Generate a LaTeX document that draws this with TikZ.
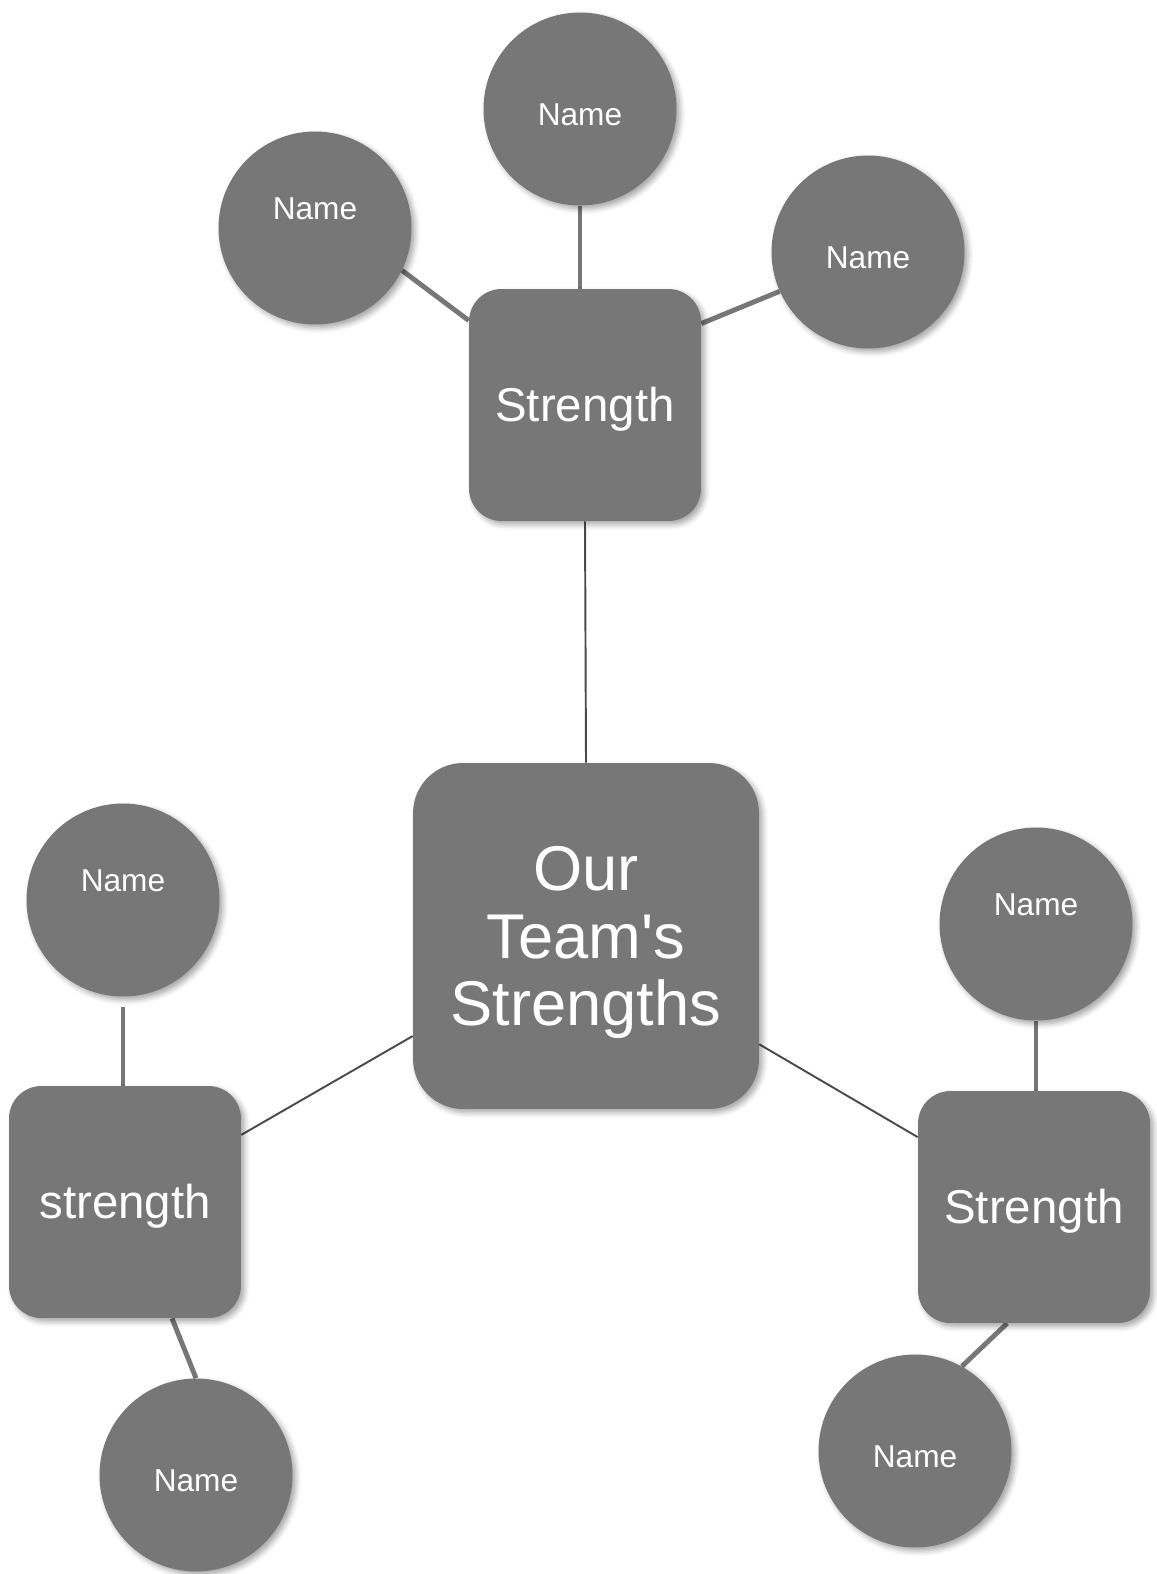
\documentclass[tikz,border=0pt]{standalone}
\usepackage{fontspec}
\setmainfont{Liberation Sans}
\usepackage{tikz}
\usetikzlibrary{backgrounds,shadows.blur}

\definecolor{boxgray}{HTML}{777777}
\definecolor{linkgray}{HTML}{4A4A4A}

\tikzset{
    softshadow/.style={blur shadow={shadow xshift=2pt, shadow yshift=-2pt, shadow blur radius=3pt, shadow opacity=35}},
    namecirc/.style={circle, fill=boxgray, minimum size=3.86cm, inner sep=0pt, text=white,
        text height=0.65cm, font=\fontsize{18}{20}\selectfont, softshadow},
    raised/.style={text depth=1cm},
    strengthbox/.style={rectangle, rounded corners=0.65cm, fill=boxgray, minimum size=4.64cm,
        text=white, text height=0.84cm, font=\fontsize{27}{30}\selectfont, softshadow},
    hubbox/.style={rectangle, rounded corners=1cm, fill=boxgray, minimum size=6.92cm,
        text=white, align=center, text depth=0pt, font=\fontsize{36}{38.5}\selectfont, softshadow},
    spoke/.style={draw=boxgray, line width=2.8pt},
    link/.style={draw=linkgray, line width=1.1pt},
}

\begin{document}
\begin{tikzpicture}[x=0.02cm, y=-0.02cm]
    \useasboundingbox (0,0) rectangle (1156,1574);

    % centre and the three strengths
    \node[hubbox] (hub) at (586,936) {Our\\Team\textquotesingle s\\Strengths};
    \node[strengthbox] (s1) at (585,405) {Strength};
    \node[strengthbox] (s2) at (125,1202) {strength};
    \node[strengthbox] (s3) at (1034,1207) {Strength};

    % names round each strength
    \node[namecirc, raised] (c1) at (315,228) {Name};
    \node[namecirc] (c2) at (580,109) {Name};
    \node[namecirc] (c3) at (868,252) {Name};
    \node[namecirc, raised] (c4) at (123,900) {Name};
    \node[namecirc] (c5) at (196,1475) {Name};
    \node[namecirc, raised] (c6) at (1036,924) {Name};
    \node[namecirc] (c7) at (915,1451) {Name};

    \begin{scope}[on background layer]
        \draw[link] (hub.north) -- (s1.south);
        \draw[link] (hub.210) -- (s2.30);
        \draw[link] (hub.-32) -- (s3.149);

        \draw[spoke] (c1.-26) -- (s1.144);
        \draw[spoke] (c2.south) -- (c2.south |- s1.north);
        \draw[spoke] (c3.204) -- (s1.35);
        \draw[spoke, shorten <=0.2cm] (c4.south) -- (c4.south |- s2.north);
        \draw[spoke] (s2.-68) -- (c5.90);
        \draw[spoke] (c6.south) -- (c6.south |- s3.north);
        \draw[spoke] (s3.-103) -- (c7.61);
    \end{scope}
\end{tikzpicture}
\end{document}
